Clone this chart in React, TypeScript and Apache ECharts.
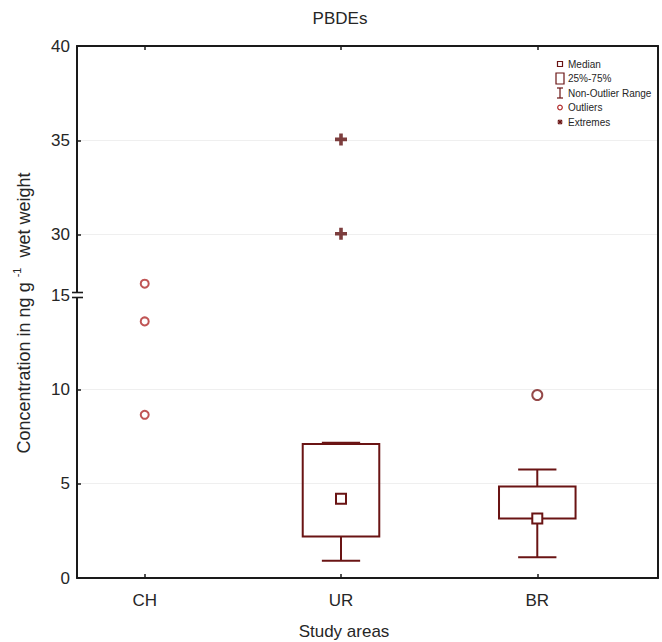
import { useEffect, useRef } from 'react';
import * as echarts from 'echarts';

// Study areas and the box-plot statistics for each (null where no box is drawn)
const areas = ['CH', 'UR', 'BR'];
const q1 = [null, 2.2, 3.15];
const q3 = [null, 7.1, 4.85];
const medians = [null, 4.2, 3.15];
const whiskerLow = [null, 0.92, 1.1];
const whiskerHigh = [null, 7.17, 5.75];

// Points beyond the whiskers
const outliers: [string, number][] = [
  ['CH', 15.6],
  ['CH', 13.6],
  ['CH', 8.65],
  ['BR', 9.7],
];
const extremes: [string, number][] = [
  ['UR', 35.05],
  ['UR', 30.05],
];

// Broken value axis: lower segment 0–15, upper segment from the break to 40
const lowerTicks = [0, 5, 10, 15];
const upperTicks = [30, 35, 40];
const lowerMax = 15;
const upperMin = 26.8;
const upperMax = 40;

const legendItems = ['Median', '25%-75%', 'Non-Outlier Range', 'Outliers', 'Extremes'];

const FONT = '"Liberation Sans", Arial, Helvetica, sans-serif';
const INK = '#1a1a1a';
const TEXT = '#262626';
const BOX = '#6a1414';
const OUT_CH = '#b02a2a';
const OUT_BR = '#7a1c1c';
const EXT = '#5c0e0e';
const GRIDLINE = '#efefef';

// Plot frame (pixels)
const W = 662;
const H = 642;
const LEFT = 77;
const RIGHT = 4;
const TOP = 46;
const BOTTOM = 64;
const BREAK_Y = 295;
const X_MIN = 0.655;
const X_MAX = 3.615;

const PLUS = 'path://M3.5,0H6.5V3.5H10V6.5H6.5V10H3.5V6.5H0V3.5H3.5Z';

export default function App() {
  const ref = useRef<HTMLDivElement>(null);

  useEffect(() => {
    const el = ref.current;
    if (!el) return;
    const chart = echarts.init(el, null, { renderer: 'svg' });

    const pos = (a: string) => areas.indexOf(a) + 1;
    const xPositions = areas.map((_, i) => i + 1);

    const boxRows = areas
      .map((_, i) =>
        q1[i] == null
          ? null
          : [i + 1, q1[i], q3[i], medians[i], whiskerLow[i], whiskerHigh[i]]
      )
      .filter((r) => r !== null) as number[][];

    const axisLine = { show: true, onZero: false, lineStyle: { color: INK, width: 2 } };
    const tickStyle = { color: INK, width: 1.5 };
    const labelStyle = { color: TEXT, fontSize: 17, fontFamily: FONT };

    const gridLines = (vals: number[]) => ({
      silent: true,
      symbol: ['none', 'none'],
      label: { show: false },
      lineStyle: { color: GRIDLINE, type: 'solid', width: 1 },
      data: vals.map((v) => ({ yAxis: v })),
      z: 0,
    });

    const legendRowsY = [64, 78.5, 93, 107.5, 122];
    const mx = 560;
    const legendGraphics: any[] = [];
    legendItems.forEach((name, i) => {
      legendGraphics.push({
        type: 'text',
        x: 568,
        y: legendRowsY[i],
        z: 50,
        style: {
          text: name,
          fontSize: 10,
          fontFamily: FONT,
          fill: TEXT,
          align: 'left',
          verticalAlign: 'middle',
        },
      });
    });
    const ly = legendRowsY;
    const lstroke = { stroke: BOX, lineWidth: 1.2, fill: 'none' };
    legendGraphics.push(
      { type: 'rect', z: 50, shape: { x: mx - 2.5, y: ly[0] - 2.5, width: 5, height: 5 }, style: lstroke },
      { type: 'rect', z: 50, shape: { x: mx - 4, y: ly[1] - 5.5, width: 8, height: 11 }, style: lstroke },
      { type: 'line', z: 50, shape: { x1: mx, y1: ly[2] - 5, x2: mx, y2: ly[2] + 5 }, style: lstroke },
      { type: 'line', z: 50, shape: { x1: mx - 3, y1: ly[2] - 5, x2: mx + 3, y2: ly[2] - 5 }, style: lstroke },
      { type: 'line', z: 50, shape: { x1: mx - 3, y1: ly[2] + 5, x2: mx + 3, y2: ly[2] + 5 }, style: lstroke },
      { type: 'circle', z: 50, shape: { cx: mx, cy: ly[3], r: 2.3 }, style: { ...lstroke, stroke: OUT_CH } },
      { type: 'line', z: 50, shape: { x1: mx - 2.5, y1: ly[4], x2: mx + 2.5, y2: ly[4] }, style: lstroke },
      { type: 'line', z: 50, shape: { x1: mx, y1: ly[4] - 2.5, x2: mx, y2: ly[4] + 2.5 }, style: lstroke },
      { type: 'line', z: 50, shape: { x1: mx - 2, y1: ly[4] - 2, x2: mx + 2, y2: ly[4] + 2 }, style: lstroke },
      { type: 'line', z: 50, shape: { x1: mx - 2, y1: ly[4] + 2, x2: mx + 2, y2: ly[4] - 2 }, style: lstroke }
    );

    const option: any = {
      animation: false,
      backgroundColor: '#ffffff',
      textStyle: { fontFamily: FONT },
      grid: [
        { left: LEFT, right: RIGHT, top: BREAK_Y, bottom: BOTTOM, containLabel: false },
        { left: LEFT, right: RIGHT, top: TOP, height: BREAK_Y - TOP, containLabel: false },
      ],
      xAxis: [
        {
          type: 'value',
          gridIndex: 0,
          position: 'bottom',
          min: X_MIN,
          max: X_MAX,
          axisLine,
          axisTick: { show: true, inside: true, length: 4, lineStyle: tickStyle, customValues: xPositions },
          axisLabel: {
            ...labelStyle,
            margin: 14,
            customValues: xPositions,
            formatter: (v: number) => areas[Math.round(v) - 1] ?? '',
          },
          splitLine: { show: false },
        },
        {
          type: 'value',
          gridIndex: 1,
          position: 'top',
          min: X_MIN,
          max: X_MAX,
          axisLine,
          axisTick: { show: true, inside: true, length: 4, lineStyle: tickStyle, customValues: xPositions },
          axisLabel: { show: false },
          splitLine: { show: false },
        },
      ],
      yAxis: [
        {
          type: 'value',
          gridIndex: 0,
          position: 'left',
          min: 0,
          max: lowerMax,
          interval: 5,
          axisLine,
          axisTick: { show: true, inside: true, length: 4, lineStyle: tickStyle },
          axisLabel: { ...labelStyle, margin: 7, customValues: lowerTicks },
          splitLine: { show: false },
        },
        {
          type: 'value',
          gridIndex: 0,
          position: 'right',
          min: 0,
          max: lowerMax,
          axisLine,
          axisTick: { show: false },
          axisLabel: { show: false },
          splitLine: { show: false },
        },
        {
          type: 'value',
          gridIndex: 1,
          position: 'left',
          min: upperMin,
          max: upperMax,
          axisLine,
          axisTick: { show: true, inside: true, length: 4, lineStyle: tickStyle, customValues: upperTicks },
          axisLabel: { ...labelStyle, margin: 7, customValues: upperTicks },
          splitLine: { show: false },
        },
        {
          type: 'value',
          gridIndex: 1,
          position: 'right',
          min: upperMin,
          max: upperMax,
          axisLine,
          axisTick: { show: false },
          axisLabel: { show: false },
          splitLine: { show: false },
        },
      ],
      series: [
        {
          type: 'custom',
          name: 'box',
          xAxisIndex: 0,
          yAxisIndex: 0,
          data: boxRows,
          encode: { x: 0, y: [1, 2, 3, 4, 5] },
          z: 5,
          renderItem: (_params: any, api: any) => {
            const x = api.value(0);
            const cx = api.coord([x, 0])[0];
            const yQ1 = api.coord([x, api.value(1)])[1];
            const yQ3 = api.coord([x, api.value(2)])[1];
            const yMed = api.coord([x, api.value(3)])[1];
            const yLo = api.coord([x, api.value(4)])[1];
            const yHi = api.coord([x, api.value(5)])[1];
            const bw = api.size([0.39, 0])[0];
            const cw = api.size([0.195, 0])[0];
            const ms = 10;
            const ls = { stroke: BOX, lineWidth: 2, fill: 'none' };
            return {
              type: 'group',
              children: [
                { type: 'line', shape: { x1: cx, y1: yQ3, x2: cx, y2: yHi }, style: ls },
                { type: 'line', shape: { x1: cx - cw / 2, y1: yHi, x2: cx + cw / 2, y2: yHi }, style: ls },
                { type: 'line', shape: { x1: cx, y1: yQ1, x2: cx, y2: yLo }, style: ls },
                { type: 'line', shape: { x1: cx - cw / 2, y1: yLo, x2: cx + cw / 2, y2: yLo }, style: ls },
                { type: 'rect', shape: { x: cx - bw / 2, y: yQ3, width: bw, height: yQ1 - yQ3 }, style: ls },
                {
                  type: 'rect',
                  shape: { x: cx - ms / 2, y: yMed - ms / 2, width: ms, height: ms },
                  style: { ...ls, fill: '#ffffff' },
                },
              ],
            };
          },
        },
        {
          type: 'scatter',
          name: 'Outliers',
          xAxisIndex: 0,
          yAxisIndex: 0,
          clip: false,
          z: 6,
          symbol: 'emptyCircle',
          data: outliers.map(([a, v]) => ({
            value: [pos(a), v],
            symbolSize: a === 'BR' ? 10 : 8,
            itemStyle: { color: a === 'BR' ? OUT_BR : OUT_CH, borderWidth: a === 'BR' ? 2.6 : 2 },
          })),
          markLine: gridLines(lowerTicks.filter((t) => t > 0 && t < lowerMax)),
        },
        {
          type: 'scatter',
          name: 'Extremes',
          xAxisIndex: 1,
          yAxisIndex: 2,
          clip: false,
          z: 6,
          symbol: PLUS,
          symbolSize: 12,
          itemStyle: { color: EXT },
          data: extremes.map(([a, v]) => [pos(a), v]),
          markLine: gridLines(upperTicks.filter((t) => t < upperMax)),
        },
      ],
      graphic: [
        {
          type: 'text',
          x: 340,
          y: 18,
          style: {
            text: 'PBDEs',
            fontSize: 17,
            fontFamily: FONT,
            fill: TEXT,
            align: 'center',
            verticalAlign: 'middle',
          },
        },
        {
          type: 'text',
          x: 344,
          y: 631,
          style: {
            text: 'Study areas',
            fontSize: 17,
            fontFamily: FONT,
            fill: TEXT,
            align: 'center',
            verticalAlign: 'middle',
          },
        },
        {
          type: 'text',
          x: 24,
          y: 313,
          rotation: Math.PI / 2,
          style: {
            text: '{t|Concentration in ng g }{sup|-1}{t|  wet weight}',
            fontFamily: FONT,
            fill: TEXT,
            align: 'center',
            verticalAlign: 'middle',
            rich: {
              t: { fontSize: 18, fontFamily: FONT, fill: TEXT, lineHeight: 26, verticalAlign: 'middle' },
              sup: { fontSize: 11, fontFamily: FONT, fill: TEXT, lineHeight: 12, verticalAlign: 'top' },
            },
          },
        },
        // axis break mark at the join of the two segments
        {
          type: 'rect',
          z: 100,
          shape: { x: LEFT - 6, y: BREAK_Y - 2, width: 12, height: 4 },
          style: { fill: '#ffffff', stroke: 'none' },
        },
        {
          type: 'line',
          z: 101,
          shape: { x1: LEFT - 5, y1: BREAK_Y - 2.5, x2: LEFT + 6, y2: BREAK_Y - 2.5 },
          style: { stroke: INK, lineWidth: 1.6 },
        },
        {
          type: 'line',
          z: 101,
          shape: { x1: LEFT - 5, y1: BREAK_Y + 2.5, x2: LEFT + 6, y2: BREAK_Y + 2.5 },
          style: { stroke: INK, lineWidth: 1.6 },
        },
        ...legendGraphics,
      ],
    };

    chart.setOption(option);
    return () => chart.dispose();
  }, []);

  return (
    <div
      ref={ref}
      style={{ position: 'fixed', left: 0, top: 0, width: W, height: H, background: '#ffffff' }}
    />
  );
}
